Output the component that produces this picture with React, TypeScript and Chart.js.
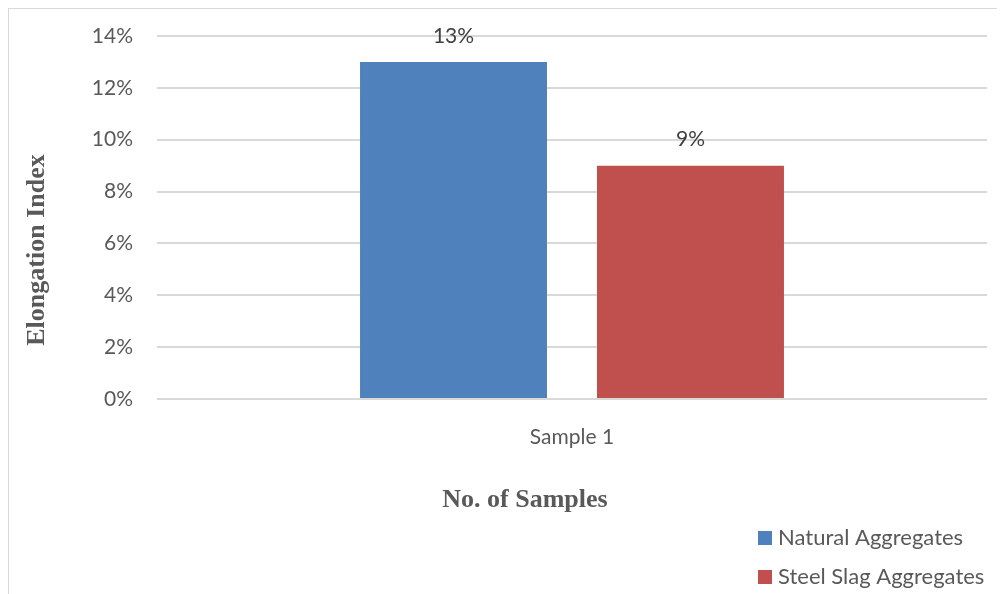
import React, { useEffect, useRef } from "react";
import { Chart, registerables } from "chart.js";

Chart.register(...registerables);

const categories = ["Sample 1"];
const naturalAggregates = [13];
const steelSlagAggregates = [9];
const seriesNames = ["Natural Aggregates", "Steel Slag Aggregates"];
const seriesColors = ["#4F81BD", "#C0504D"];
const yTitle = "Elongation Index";
const xTitle = "No. of Samples";

const sansFont = "Lato, 'Open Sans', sans-serif";
const serifFont = "'Liberation Serif', 'DejaVu Serif', serif";

const annotations = {
  id: "annotations",
  afterDatasetsDraw(chart: any) {
    const { ctx } = chart;
    ctx.save();
    // value labels above each bar
    ctx.font = `21px ${sansFont}`;
    ctx.fillStyle = "#404040";
    ctx.textAlign = "center";
    ctx.textBaseline = "middle";
    chart.data.datasets.forEach((ds: any, i: number) => {
      const meta = chart.getDatasetMeta(i);
      meta.data.forEach((bar: any, j: number) => {
        ctx.fillText(`${ds.data[j]}%`, bar.x, bar.y - 26);
      });
    });
    // axis titles
    ctx.font = `bold 26px ${serifFont}`;
    ctx.fillStyle = "#595959";
    ctx.save();
    ctx.translate(28, 241);
    ctx.rotate(-Math.PI / 2);
    ctx.fillText(yTitle, 0, 0);
    ctx.restore();
    ctx.fillText(xTitle, 516, 491);
    // legend, stacked vertically in the lower right
    ctx.font = `22px ${sansFont}`;
    ctx.textAlign = "left";
    chart.data.datasets.forEach((ds: any, i: number) => {
      const cy = 529 + i * 39;
      ctx.fillStyle = ds.backgroundColor;
      ctx.fillRect(749, cy - 7, 14, 14);
      ctx.fillStyle = "#595959";
      ctx.fillText(ds.label, 769, cy);
    });
    ctx.restore();
  },
};

export default function App() {
  const canvasRef = useRef<HTMLCanvasElement | null>(null);

  useEffect(() => {
    if (!canvasRef.current) return;
    const chart = new Chart(canvasRef.current, {
      type: "bar",
      data: {
        labels: categories,
        datasets: [
          {
            label: seriesNames[0],
            data: naturalAggregates,
            backgroundColor: seriesColors[0],
            categoryPercentage: 0.571,
            barPercentage: 0.789,
          },
          {
            label: seriesNames[1],
            data: steelSlagAggregates,
            backgroundColor: seriesColors[1],
            categoryPercentage: 0.571,
            barPercentage: 0.789,
          },
        ],
      },
      options: {
        responsive: false,
        animation: false,
        layout: { padding: { top: 27, right: 18, bottom: 0, left: 0 } },
        plugins: {
          legend: { display: false },
          tooltip: { enabled: false },
        },
        scales: {
          x: {
            grid: { display: false, drawTicks: false },
            border: { display: false },
            ticks: {
              padding: 26,
              color: "#595959",
              font: { family: sansFont, size: 21 },
            },
            afterFit(scale: any) {
              scale.height = 195;
              scale.paddingLeft = 0;
              scale.paddingRight = 0;
            },
          },
          y: {
            min: 0,
            max: 14,
            ticks: {
              stepSize: 2,
              padding: 24,
              color: "#595959",
              font: { family: sansFont, size: 21 },
              callback: (v: any) => `${v}%`,
            },
            grid: { color: "#d9d9d9", lineWidth: 2, drawTicks: false },
            border: { display: false },
            afterFit(scale: any) {
              scale.width = 148;
              scale.paddingTop = 0;
              scale.paddingBottom = 0;
            },
          },
        },
      },
      plugins: [annotations],
    });
    return () => chart.destroy();
  }, []);

  return (
    <div
      style={{
        marginLeft: -1,
        marginTop: -1,
        width: 996,
        height: 585,
        borderTop: "2px solid #d9d9d9",
        borderLeft: "2px solid #d9d9d9",
      }}
    >
      <canvas ref={canvasRef} width={996} height={585} style={{ display: "block" }} />
    </div>
  );
}
